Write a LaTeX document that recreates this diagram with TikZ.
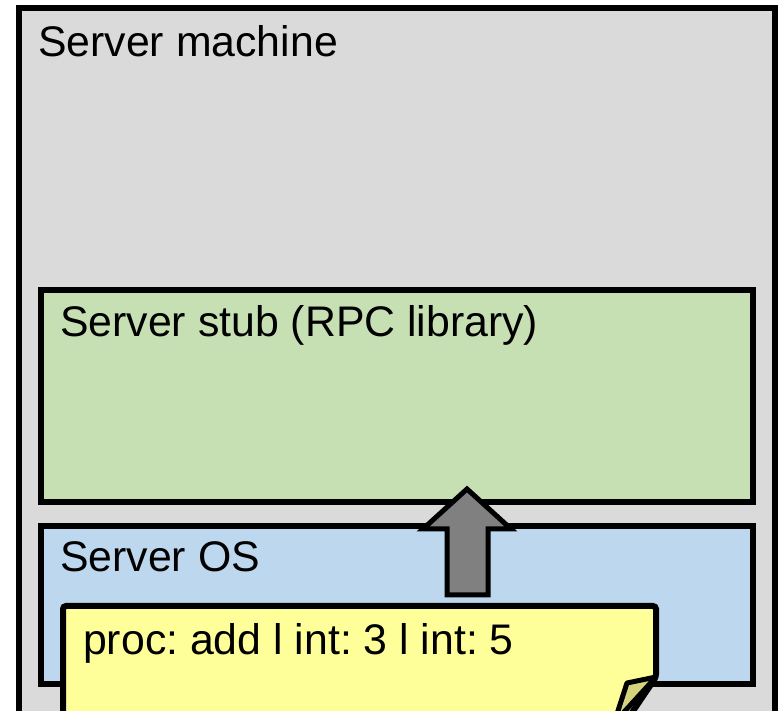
\documentclass[tikz,border=0pt]{standalone}
\usepackage{fontspec}
\setmainfont{Liberation Sans}
\frenchspacing
\definecolor{machinegray}{RGB}{218,218,218}
\definecolor{stubgreen}{RGB}{198,224,180}
\definecolor{osblue}{RGB}{189,215,238}
\definecolor{noteyellow}{RGB}{255,255,153}
\definecolor{foldyellow}{RGB}{212,212,127}
\definecolor{arrowgray}{RGB}{128,128,128}
\tikzset{
  layer/.style={draw=black,line width=6pt},
  label/.style={anchor=base west,inner sep=0pt,font=\fontsize{42.8}{50}\selectfont},
}
\begin{document}
\begin{tikzpicture}[x=1pt,y=1pt]
\useasboundingbox (0,0) rectangle (782,711);
\clip (0,0) rectangle (782,711);
\fill[white] (0,0) rectangle (782,711);
% machine
\filldraw[layer,fill=machinegray] (19,703) rectangle (775,-30);
\node[label] (machine) at (38,654) {Server machine};
% stub
\filldraw[layer,fill=stubgreen] (41,421) rectangle (753,209);
\node[label] (stub) at (60,374) {Server stub (RPC library)};
% os
\filldraw[layer,fill=osblue] (41,185) rectangle (753,27);
\node[label] (os) at (60,139) {Server OS};
% arrow up
\filldraw[fill=arrowgray,line width=5pt,miter limit=10] (447,116) -- (447,182) -- (423,182) -- (467,222) -- (511,182) -- (488,182) -- (488,116) -- cycle;
% message
\filldraw[fill=noteyellow,line width=6pt,rounded corners=3pt] (63,-40) -- (63,105) -- (656,105) -- (656,34) [sharp corners] -- (606,-40) -- cycle;
\filldraw[fill=foldyellow,line width=5pt,line join=round] (656,34) -- (627,28) -- (614,-12) -- cycle;
\node[label] (msg) at (83,56) {proc: add l int: 3 l int: 5};
\end{tikzpicture}
\end{document}
